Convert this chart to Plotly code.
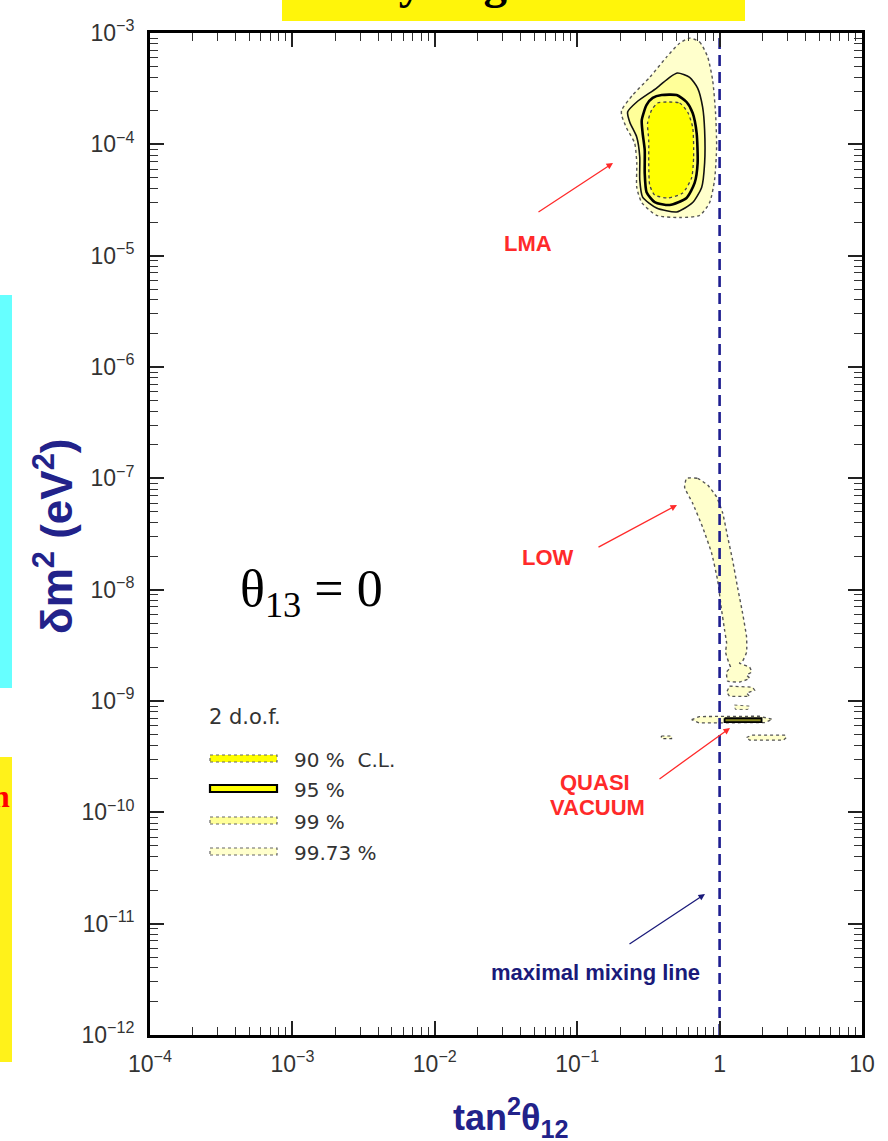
import plotly.graph_objects as go

# ---------------- data ----------------
x_tickvals = [1e-4, 1e-3, 1e-2, 1e-1, 1, 10]
x_ticktext = ["10<sup>−4</sup>", "10<sup>−3</sup>", "10<sup>−2</sup>", "10<sup>−1</sup>", "1", "10"]
y_tickvals = [1e-12, 1e-11, 1e-10, 1e-9, 1e-8, 1e-7, 1e-6, 1e-5, 1e-4, 1e-3]
y_ticktext = ["10<sup>−12</sup>", "10<sup>−11</sup>", "10<sup>−10</sup>", "10<sup>−9</sup>",
              "10<sup>−8</sup>", "10<sup>−7</sup>", "10<sup>−6</sup>", "10<sup>−5</sup>",
              "10<sup>−4</sup>", "10<sup>−3</sup>"]

# LMA region contours (tan^2 theta12, delta m^2)
lma_9973_x = [0.616, 0.724, 0.824, 0.893, 0.937, 0.953, 0.922, 0.851, 0.724, 0.524, 0.361,
              0.284, 0.262, 0.262, 0.253, 0.222, 0.205, 0.205, 0.245, 0.323, 0.425, 0.524]
lma_9973_y = [9.0e-4, 8.3e-4, 6.1e-4, 3.8e-4, 1.9e-4, 9.5e-5, 4.8e-5, 3.0e-5, 2.3e-5, 2.2e-5, 2.3e-5,
              3.0e-5, 4.1e-5, 6.8e-5, 1.03e-4, 1.40e-4, 1.83e-4, 2.03e-4, 2.77e-4, 4.0e-4, 6.1e-4, 8.1e-4]
lma_99_x = [0.507, 0.616, 0.701, 0.760, 0.785, 0.785, 0.748, 0.647, 0.499, 0.361, 0.288, 0.275,
            0.275, 0.262, 0.234, 0.226, 0.262, 0.361, 0.446]
lma_99_y = [4.37e-4, 4.0e-4, 3.2e-4, 2.16e-4, 1.34e-4, 6.8e-5, 4.1e-5, 3.0e-5, 2.47e-5, 2.68e-5,
            3.36e-5, 4.8e-5, 7.7e-5, 1.16e-4, 1.58e-4, 1.95e-4, 2.40e-4, 3.2e-4, 4.0e-4]
lma_95_x = [0.392, 0.499, 0.586, 0.647, 0.690, 0.701, 0.668, 0.586, 0.446, 0.350, 0.307, 0.298,
            0.298, 0.288, 0.284, 0.307, 0.339]
lma_95_y = [2.77e-4, 2.77e-4, 2.40e-4, 1.91e-4, 1.26e-4, 6.8e-5, 4.5e-5, 3.3e-5, 2.85e-5, 3.03e-5,
            3.72e-5, 5.5e-5, 8.9e-5, 1.26e-4, 1.65e-4, 2.26e-4, 2.61e-4]
lma_90_x = [0.425, 0.524, 0.596, 0.647, 0.657, 0.636, 0.550, 0.432, 0.350, 0.323, 0.318, 0.318,
            0.312, 0.333, 0.367]
lma_90_y = [2.40e-4, 2.35e-4, 1.95e-4, 1.43e-4, 7.7e-5, 5.0e-5, 3.65e-5, 3.3e-5, 3.5e-5, 4.3e-5,
            6.8e-5, 1.09e-4, 1.55e-4, 2.03e-4, 2.35e-4]

# LOW region (99.73 %)
low_x = [0.586, 0.701, 0.824, 0.953, 1.050, 1.138, 1.234, 1.337, 1.450, 1.547, 1.547, 1.450, 1.381,
         1.624, 1.678, 1.547, 1.624, 1.381, 1.138, 1.120, 1.194, 1.157, 1.102, 1.120, 1.084, 1.033,
         0.968, 0.879, 0.760, 0.647, 0.568]
low_y = [1.0e-7, 1.0e-7, 8.7e-8, 6.8e-8, 4.9e-8, 3.0e-8, 1.84e-8, 1.05e-8, 6.15e-9, 3.74e-9, 2.74e-9,
         2.28e-9, 2.19e-9, 2.01e-9, 1.82e-9, 1.71e-9, 1.60e-9, 1.48e-9, 1.51e-9, 1.82e-9, 2.01e-9,
         2.23e-9, 2.74e-9, 3.30e-9, 4.33e-9, 6.54e-9, 1.22e-8, 2.13e-8, 3.64e-8, 5.98e-8, 8.3e-8]
low_blob1_x = [1.175, 1.705, 1.762, 1.547, 1.624, 1.175, 1.120]
low_blob1_y = [1.36e-9, 1.33e-9, 1.25e-9, 1.18e-9, 1.10e-9, 1.10e-9, 1.20e-9]
low_blob2_x = [1.27, 1.62, 1.58, 1.29]
low_blob2_y = [9.2e-10, 9.0e-10, 8.4e-10, 8.4e-10]

# QUASI VACUUM islands
qv_9973_x = [0.636, 0.72, 1.9, 2.35, 2.07, 0.72]
qv_9973_y = [6.8e-10, 7.25e-10, 7.3e-10, 6.85e-10, 6.4e-10, 6.35e-10]
qv_95_x = [1.084, 1.971, 1.971, 1.084]
qv_95_y = [7.0e-10, 7.0e-10, 6.45e-10, 6.45e-10]
qv_left_x = [0.39, 0.46, 0.46, 0.39]
qv_left_y = [4.85e-10, 4.85e-10, 4.6e-10, 4.6e-10]
qv_right_x = [1.547, 1.678, 2.86, 2.95, 2.80, 1.624]
qv_right_y = [4.7e-10, 4.93e-10, 4.93e-10, 4.7e-10, 4.45e-10, 4.45e-10]

# maximal mixing line
maxmix_x = [1, 1]
maxmix_y = [1e-12, 1e-3]

legend_labels = ["90 %  C.L.", "95 %", "99 %", "99.73 %"]

# ---------------- style ----------------
C90, C95, C99, C9973 = "#ffff00", "#ffff66", "#ffff99", "#ffffcc"
NAVY = "#22228a"
RED = "#ff2a2a"

L, R, T, B = 150, 862, 33, 1035


def px(xp):
    return (xp - L) / (R - L)


def py(yp):
    return (B - yp) / (B - T)


def closed(a):
    return list(a) + [a[0]]


fig = go.Figure()


def region(xs, ys, fill, lcol, lw, dash="solid", smooth=0.6):
    fig.add_trace(go.Scatter(
        x=closed(xs), y=closed(ys), mode="lines", fill="toself", fillcolor=fill,
        line=dict(color=lcol, width=lw, dash=dash,
                  shape="spline" if smooth else "linear", smoothing=smooth if smooth else 1),
        hoverinfo="skip", showlegend=False))


region(lma_9973_x, lma_9973_y, C9973, "#555555", 1.4, "dot")
region(lma_99_x, lma_99_y, C99, "#111111", 1.6)
region(lma_95_x, lma_95_y, C95, "#000000", 2.6)
region(lma_90_x, lma_90_y, C90, "#444444", 1.3, "dot")
region(low_x, low_y, C9973, "#555555", 1.4, "dot", smooth=0.4)
region(low_blob1_x, low_blob1_y, C9973, "#555555", 1.3, "dot", smooth=0)
region(low_blob2_x, low_blob2_y, C9973, "#666666", 1.0, "dot", smooth=0)
region(qv_9973_x, qv_9973_y, C9973, "#555555", 1.3, "dot", smooth=0)
region(qv_95_x, qv_95_y, "#8a8a20", "#000000", 1.8, smooth=0)
region(qv_left_x, qv_left_y, C9973, "#444444", 1.2, "dot", smooth=0)
region(qv_right_x, qv_right_y, C9973, "#555555", 1.3, "dot", smooth=0)

# maximal mixing line (on the overlay axes that carry the minor ticks)
fig.add_trace(go.Scatter(x=maxmix_x, y=maxmix_y, mode="lines", xaxis="x2", yaxis="y2",
                         line=dict(color="#1e1e90", width=2.6, dash="11px,6px"),
                         hoverinfo="skip", showlegend=False))

minor_x = [m * d for d in x_tickvals[:-1] for m in range(2, 10)]
minor_y = [m * d for d in y_tickvals[:-1] for m in range(2, 10)]

TICKFONT = dict(family="Liberation Sans, Arial, sans-serif", size=23, color="#333")

fig.update_layout(
    xaxis=dict(type="log", range=[-4, 1], tickmode="array", tickvals=x_tickvals, ticktext=x_ticktext,
               showline=True, linewidth=3, linecolor="black", mirror="ticks",
               ticks="inside", ticklen=14, tickwidth=1.5, tickcolor="#222",
               showgrid=False, zeroline=False, tickfont=TICKFONT, ticklabelstandoff=6),
    yaxis=dict(type="log", range=[-12, -3], tickmode="array", tickvals=y_tickvals, ticktext=y_ticktext,
               showline=True, linewidth=3, linecolor="black", mirror="ticks",
               ticks="inside", ticklen=14, tickwidth=1.5, tickcolor="#222",
               showgrid=False, zeroline=False, tickfont=TICKFONT, ticklabelstandoff=8),
    xaxis2=dict(type="log", range=[-4, 1], overlaying="x", anchor="y2", side="bottom",
                tickmode="array", tickvals=minor_x, showticklabels=False,
                ticks="inside", ticklen=8, tickwidth=1.3, tickcolor="#333",
                showline=False, mirror="ticks", showgrid=False, zeroline=False),
    yaxis2=dict(type="log", range=[-12, -3], overlaying="y", anchor="x2", side="left",
                tickmode="array", tickvals=minor_y, showticklabels=False,
                ticks="inside", ticklen=8, tickwidth=1.3, tickcolor="#333",
                showline=False, mirror="ticks", showgrid=False, zeroline=False),
)

shapes = []
# decorations outside the plot
shapes.append(dict(type="rect", xref="paper", yref="paper", x0=px(282), x1=px(745), y0=py(21), y1=py(-5),
                   fillcolor="#fff50a", line=dict(width=0), layer="above"))
shapes.append(dict(type="rect", xref="paper", yref="paper", x0=px(-5), x1=px(12), y0=py(688), y1=py(295),
                   fillcolor="#66ffff", line=dict(width=0), layer="above"))
shapes.append(dict(type="rect", xref="paper", yref="paper", x0=px(-5), x1=px(12), y0=py(1062), y1=py(757),
                   fillcolor="#fff21a", line=dict(width=0), layer="above"))

# legend swatches
leg_rows = [758.5, 788.5, 820.5, 851.5]
leg_fill = [C90, C90, C99, C9973]
leg_line = [dict(color="#666", width=1.2, dash="dot"), dict(color="#000", width=2.2),
            dict(color="#666", width=1.2, dash="dot"), dict(color="#666", width=1.2, dash="dot")]
for yc, fc, ln in zip(leg_rows, leg_fill, leg_line):
    shapes.append(dict(type="rect", xref="paper", yref="paper", x0=px(210), x1=px(277),
                       y0=py(yc + 3.5), y1=py(yc - 3.5), fillcolor=fc, line=ln, layer="above"))

ann = []
SANS = "Liberation Sans, Arial, sans-serif"


def text(t, x, y, size, color, family=SANS, xanchor="center", yanchor="middle", angle=0):
    ann.append(dict(text=t, x=px(x), y=py(y), xref="paper", yref="paper", showarrow=False,
                    xanchor=xanchor, yanchor=yanchor, textangle=angle,
                    font=dict(family=family, size=size, color=color)))


def arrow(x0, y0, x1, y1, color):
    ann.append(dict(text="", x=px(x1), y=py(y1), xref="paper", yref="paper", showarrow=True,
                    ax=x0 - x1, ay=y0 - y1, axref="pixel", ayref="pixel",
                    arrowhead=2, arrowsize=1, arrowwidth=1.3, arrowcolor=color, standoff=0))


# top partially visible title
text("<b>Analysis global fit</b>", 300, 10, 47, "black", family="Liberation Serif, Times New Roman, serif",
     xanchor="left", yanchor="bottom")
# red fragment at left
text("<b>n</b>", 12, 796, 32, "#ff0000", family="Liberation Serif, serif", xanchor="right")

# axis titles
text("<b>δm<sup>2</sup> (eV<sup>2</sup>)</b>", 53, 537, 44, NAVY, angle=-90)
text("<b>tan<sup>2</sup>θ<sub>12</sub></b>", 511, 1117, 36, NAVY)

# theta13 label
text("θ<sub>13</sub> = 0", 311, 592, 52, "black", family="Liberation Serif, Times New Roman, serif")

# region labels and arrows
text("<b>LMA</b>", 528, 243, 22, RED)
arrow(537, 213, 613, 163, RED)
text("<b>LOW</b>", 548, 557, 22, RED)
arrow(597, 548, 677, 505, RED)
text("<b>QUASI</b>", 595, 782, 22, RED)
text("<b>VACUUM</b>", 597, 807, 22, RED)
arrow(658, 780, 730, 728, RED)
text("<b>maximal mixing line</b>", 595, 972, 22, "#1a1a7a")
arrow(628, 945, 705, 894, "#1a1a7a")

# legend texts
LEGF = "DejaVu Sans, Liberation Sans, sans-serif"
text("2 d.o.f.", 207, 717, 21, "#333", family=LEGF, xanchor="left")
for yc, lab in zip(leg_rows, legend_labels):
    text(lab, 292, yc + 1, 20, "#333", family=LEGF, xanchor="left")

fig.update_layout(
    width=888, height=1141, autosize=False,
    margin=dict(l=L, r=888 - R, t=T, b=1141 - B, pad=0),
    paper_bgcolor="white", plot_bgcolor="white",
    shapes=shapes, annotations=ann, showlegend=False,
)

fig.write_html("out.html", config={"displayModeBar": False},
               post_script="document.body.style.margin='0px';document.body.style.overflow='hidden';")
